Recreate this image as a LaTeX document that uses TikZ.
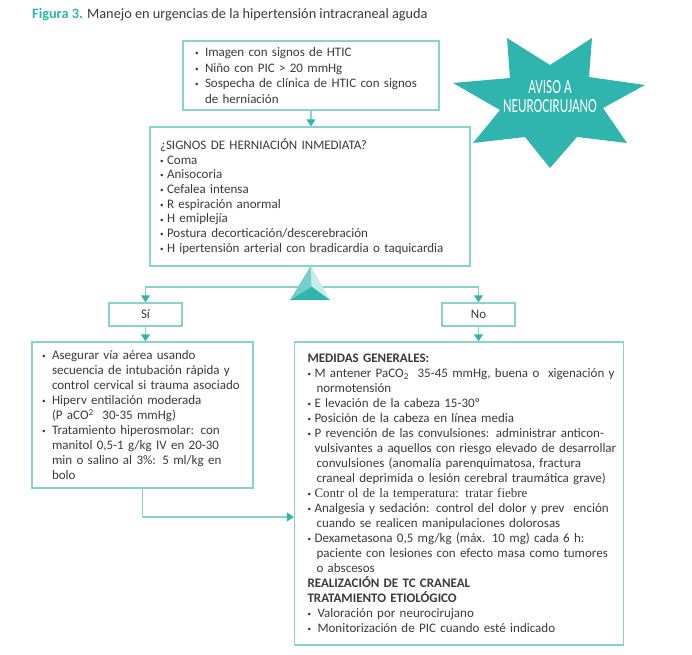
\documentclass[tikz,border=0pt]{standalone}
\usepackage{graphicx}
\usepackage{fontspec}
\setmainfont{Carlito}
\newfontfamily\serifx{Liberation Serif}
\usetikzlibrary{arrows.meta}
\definecolor{teal1}{HTML}{2FB5AD}
\definecolor{line1}{HTML}{86D3CF}
\definecolor{txt}{HTML}{3A3A3A}
\definecolor{triL}{HTML}{72CFCA}
\definecolor{triR}{HTML}{C6EBE9}
\newcommand\bu{\makebox[10pt][l]{\raisebox{0.15ex}{\scalebox{0.55}{•}}}}
\newcommand\bv{\makebox[7pt][l]{\raisebox{0.15ex}{\scalebox{0.55}{•}}}}
\newcommand\ind[1]{\hspace*{#1pt}}
\begin{document}
\begin{tikzpicture}[x=1pt,y=-1pt,
  box/.style={draw=line1,line width=1.4pt,rectangle,text=txt,align=left,
    font=\fontsize{13}{15}\selectfont,inner ysep=0pt},
  lab/.style={draw=line1,line width=1.4pt,rectangle,text=txt,align=center,
    font=\fontsize{13}{15}\selectfont,inner sep=0pt},
  arr/.style={draw=line1,line width=1.4pt,-{Triangle[width=9pt,length=7pt,color=teal1]}},
  conn/.style={draw=line1,line width=1.4pt}]
\useasboundingbox (0,0) rectangle (692,654);
% title
\node[anchor=west,inner sep=0pt,text=txt,font=\fontsize{14.3}{16}\selectfont] (title) at (32,15)
  {\textcolor{teal1}{\bfseries Figura 3.} Manejo en urgencias de la hipertensión intracraneal aguda};
% box 1
\node[box,minimum width=256pt,minimum height=69pt,text width=232pt,inner xsep=12pt,
  font=\fontsize{13}{15.5}\selectfont] (b1) at (311,75.5)
  {\bu Imagen con signos de HTIC\\
   \bu Niño con PIC > 20 mmHg\\
   \bu \mbox{Sospecha de clínica de HTIC con signos}\\
   \ind{10}de herniación};
% box 2
\node[box,minimum width=320pt,minimum height=139pt,text width=300pt,inner xsep=10pt,
  font=\fontsize{13}{14.7}\selectfont] (b2) at (310,196.5)
  {¿SIGNOS DE HERNIACIÓN INMEDIATA?\\
   \bv Coma\\
   \bv Anisocoria\\
   \bv Cefalea intensa\\
   \bv R espiración anormal\\
   \bv H emiplejía\\
   \bv Postura decorticación/descerebración\\
   \bv \mbox{H ipertensión arterial con bradicardia o taquicardia}};
% star
\fill[teal1] (507,38) -- (550,65) -- (592,38) -- (589,77) -- (645,85) -- (603,108)
  -- (627,143) -- (577,137) -- (550,168) -- (525,137) -- (473,143) -- (500,110)
  -- (453,83) -- (510,78) -- cycle;
\node[text=white,align=center,inner sep=0pt,font=\fontsize{20}{19}\selectfont] (star) at (550,97)
  {\scalebox{0.66}[1]{AVISO A}\\\scalebox{0.66}[1]{NEUROCIRUJANO}};
% split
\coordinate (split) at (310.5,287);
\node[lab,minimum width=73pt,minimum height=23pt] (si) at (145.5,314.5) {Sí};
\node[lab,minimum width=73pt,minimum height=23pt] (no) at (478.5,314.5) {No};
\draw[arr] (split) -| (si.north);
\draw[arr] (split) -| (no.north);
% pyramid
\coordinate (apex) at (310.7,266);
\coordinate (tl) at (290,300);
\coordinate (tr) at (330,300);
\coordinate (tc) at (311.7,286.7);
\fill[triL] (apex) -- (tl) -- (tc) -- cycle;
\fill[triR] (apex) -- (tc) -- (tr) -- cycle;
\fill[teal1] (tl) -- (tc) -- (tr) -- cycle;
% left box
\node[box,minimum width=221pt,minimum height=146pt,text width=201pt,inner xsep=10pt] (lb) at (142.5,415)
  {\bu Asegurar vía aérea usando\\
   \ind{10}\mbox{secuencia de intubación rápida y}\\
   \ind{10}\mbox{control cervical si trauma asociado}\\
   \bu Hiperv entilación moderada\\
   \ind{10}(P aCO\textsuperscript{2}\ \ 30-35 mmHg)\\
   \bu Tratamiento hiperosmolar: con\\
   \ind{10}manitol 0,5-1 g/kg IV en 20-30\\
   \ind{10}min o salino al 3\%: 5 ml/kg en\\
   \ind{10}bolo};
% right box
\node[box,minimum width=329pt,minimum height=303pt,text width=303pt,inner xsep=13pt] (rb) at (459,493.5)
  {\textbf{MEDIDAS GENERALES:}\\
   \bv \mbox{M antener PaCO\textsubscript{2}\ \ 35-45 mmHg, buena o\ \ xigenación y}\\
   \ind{9}normotensión\\
   \bv E levación de la cabeza 15-30º\\
   \bv Posición de la cabeza en línea media\\
   \bv \mbox{P revención de las convulsiones: administrar anticon-}\\
   \ind{7}\mbox{vulsivantes a aquellos con riesgo elevado de desarrollar}\\
   \ind{9}\mbox{convulsiones (anomalía parenquimatosa, fractura}\\
   \ind{9}\mbox{craneal deprimida o lesión cerebral traumática grave)}\\
   \bv {\serifx Contr ol de la temperatura: tratar fiebre}\\
   \bv \mbox{Analgesia y sedación: control del dolor y prev\ \ ención}\\
   \ind{9}\mbox{cuando se realicen manipulaciones dolorosas}\\
   \bv \mbox{Dexametasona 0,5 mg/kg (máx. 10 mg) cada 6 h:}\\
   \ind{9}\mbox{paciente con lesiones con efecto masa como tumores}\\
   \ind{9}o abscesos\\
   \textbf{REALIZACIÓN DE TC CRANEAL}\\
   \textbf{TRATAMIENTO ETIOLÓGICO}\\
   \bu Valoración por neurocirujano\\
   \bu \mbox{Monitorización de PIC cuando esté indicado}};
% connectors
\draw[arr] (b1.south) -- (b1.south |- b2.north);
\draw[arr] (si.south) -- (si.south |- lb.north);
\draw[arr] (no.south) -- (no.south |- rb.north);
\coordinate (c1) at (142.5,517);
\draw[arr] (lb.south) |- (c1 -| rb.west);
\end{tikzpicture}
\end{document}
